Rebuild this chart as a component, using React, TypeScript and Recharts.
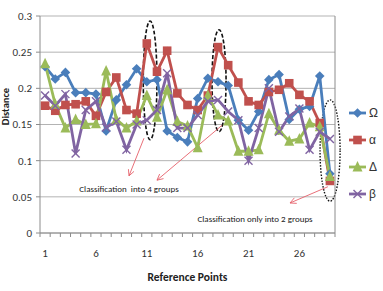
import React from 'react';
import {
  LineChart,
  Line,
  XAxis,
  YAxis,
  CartesianGrid,
  Legend,
  ReferenceLine,
  ReferenceArea,
  ReferenceDot,
  Label,
} from 'recharts';

// ---- data ----
const points = [1, 2, 3, 4, 5, 6, 7, 8, 9, 10, 11, 12, 13, 14, 15, 16, 17, 18, 19, 20, 21, 22, 23, 24, 25, 26, 27, 28, 29];
const omega = [0.23, 0.213, 0.222, 0.194, 0.194, 0.192, 0.141, 0.184, 0.205, 0.227, 0.209, 0.212, 0.141, 0.132, 0.126, 0.186, 0.214, 0.209, 0.204, 0.156, 0.142, 0.168, 0.212, 0.219, 0.157, 0.171, 0.175, 0.217, 0.082];
const alpha = [0.176, 0.169, 0.177, 0.178, 0.182, 0.162, 0.195, 0.215, 0.17, 0.165, 0.262, 0.223, 0.252, 0.193, 0.177, 0.17, 0.19, 0.257, 0.232, 0.208, 0.182, 0.177, 0.195, 0.198, 0.207, 0.191, 0.182, 0.152, 0.072];
const delta = [0.234, 0.178, 0.145, 0.157, 0.15, 0.151, 0.224, 0.157, 0.145, 0.155, 0.19, 0.16, 0.198, 0.154, 0.148, 0.118, 0.19, 0.163, 0.155, 0.113, 0.113, 0.115, 0.165, 0.142, 0.127, 0.13, 0.152, 0.147, 0.078];
const beta = [0.19, 0.176, 0.192, 0.11, 0.17, 0.182, 0.146, 0.154, 0.115, 0.15, 0.156, 0.17, 0.221, 0.145, 0.145, 0.163, 0.182, 0.184, 0.168, 0.156, 0.1, 0.145, 0.2, 0.14, 0.161, 0.172, 0.115, 0.14, 0.13];

const xTickLabels = [1, 6, 11, 16, 21, 26];
const xBoundaries = [0.5, 1.5, 2.5, 3.5, 4.5, 5.5, 6.5, 7.5, 8.5, 9.5, 10.5, 11.5, 12.5, 13.5, 14.5, 15.5, 16.5, 17.5, 18.5, 19.5, 20.5, 21.5, 22.5, 23.5, 24.5, 25.5, 26.5, 27.5, 28.5, 29.5];
const yTicks = [0, 0.05, 0.1, 0.15, 0.2, 0.25, 0.3];
const yTickLabels = ['0', '0.05', '0.1', '0.15', '0.2', '0.25', '0.3'];

const seriesKeys = ['omega', 'alpha', 'delta', 'beta'];
const seriesNames = ['Ω', 'α', 'Δ', 'β'];

// annotations (data units)
const groupEllipses = [
  { x1: 10.65, x2: 12.0, y1: 0.129, y2: 0.293 },
  { x1: 17.41, x2: 18.79, y1: 0.14, y2: 0.281 },
];
const twoGroupEllipse = { x1: 28.03, x2: 30.0, y1: 0.044, y2: 0.184 };
const arrows = [
  { from: { x: 10.72, y: 0.131 }, to: { x: 9.25, y: 0.079 } },
  { from: { x: 18.4, y: 0.149 }, to: { x: 12.0, y: 0.073 } },
  { from: { x: 28.8, y: 0.064 }, to: { x: 25.08, y: 0.0415 } },
];
const notes = [
  { x: 9.25, y: 0.061, text: 'Classification  into 4 groups' },
  { x: 21.64, y: 0.0207, text: 'Classification only into 2 groups' },
];

const data = points.map((p, i) => ({
  x: p,
  omega: omega[i],
  alpha: alpha[i],
  delta: delta[i],
  beta: beta[i],
}));

// ---- styles ----
const COLORS: Record<string, string> = { omega: '#4A7EBB', alpha: '#C0504D', delta: '#9BBB59', beta: '#8064A2' };
const FONT = "Carlito, 'Liberation Sans Narrow', 'DejaVu Sans Condensed', 'Liberation Sans', sans-serif";
const GRID = '#B3B3B3';
const AXIS = '#8C8C8C';
const ARROW = '#E5606A';

const Marker = ({ kind, cx, cy, color }: any) => {
  if (cx == null || cy == null) return null;
  if (kind === 'diamond') {
    const s = 4.8;
    return <polygon points={`${cx},${cy - s} ${cx + s},${cy} ${cx},${cy + s} ${cx - s},${cy}`} fill={color} />;
  }
  if (kind === 'square') {
    const s = 4.3;
    return <rect x={cx - s} y={cy - s} width={2 * s} height={2 * s} fill={color} />;
  }
  if (kind === 'triangle') {
    const s = 5;
    return <polygon points={`${cx},${cy - s - 1} ${cx + s},${cy + s - 0.5} ${cx - s},${cy + s - 0.5}`} fill={color} />;
  }
  const s = 4;
  return (
    <g stroke={color} strokeWidth={1.4}>
      <line x1={cx - s} y1={cy - s} x2={cx + s} y2={cy + s} />
      <line x1={cx - s} y1={cy + s} x2={cx + s} y2={cy - s} />
    </g>
  );
};

const kinds: Record<string, string> = { omega: 'diamond', alpha: 'square', delta: 'triangle', beta: 'x' };

const makeDot = (kind: string, color: string) => (props: any) => (
  <Marker key={`${kind}-${props.index}`} kind={kind} cx={props.cx} cy={props.cy} color={color} />
);

const XTick = (props: any) => {
  const { x, y, payload } = props;
  const v = payload.value;
  if (Number.isInteger(v)) {
    return (
      <text x={x} y={y + 16} dy="0.71em" textAnchor="middle" fontSize={11} fontFamily={FONT} fill="#333">
        {v}
      </text>
    );
  }
  return <line x1={x} y1={y} x2={x} y2={y + 4} stroke={AXIS} strokeWidth={1} />;
};

const EllipseShape = (dash: string, width: number) => (p: any) => {
  const { x, y, width: w, height: h } = p;
  return (
    <ellipse
      cx={x + w / 2}
      cy={y + h / 2}
      rx={Math.abs(w) / 2}
      ry={Math.abs(h) / 2}
      fill="none"
      stroke="#111"
      strokeWidth={width}
      strokeDasharray={dash}
    />
  );
};

const ArrowShape = (p: any) => {
  const { x1, y1, x2, y2 } = p;
  const ang = Math.atan2(y2 - y1, x2 - x1);
  const L = 6;
  const W = 3;
  const bx = x2 - L * Math.cos(ang);
  const by = y2 - L * Math.sin(ang);
  const px = -Math.sin(ang) * W;
  const py = Math.cos(ang) * W;
  return (
    <g stroke={ARROW} strokeWidth={0.9} fill="none">
      <line x1={x1} y1={y1} x2={x2} y2={y2} />
      <polyline points={`${bx + px},${by + py} ${x2},${y2} ${bx - px},${by - py}`} />
    </g>
  );
};

const NoteShape = (text: string) => (p: any) => (
  <text
    x={p.cx}
    y={p.cy}
    textAnchor="middle"
    dominantBaseline="central"
    fontSize={9}
    fontFamily={FONT}
    fill="#222"
    style={{ whiteSpace: 'pre' }}
  >
    {text}
  </text>
);

const LegendContent = () => (
  <svg width={38} height={110} style={{ display: 'block' }}>
    {seriesKeys.map((key, i) => {
      const cy = 13 + i * 27;
      const color = COLORS[key];
      return (
        <g key={key}>
          <line x1={4} y1={cy} x2={21} y2={cy} stroke={color} strokeWidth={2.8} />
          <Marker kind={kinds[key]} cx={12.5} cy={cy} color={color} />
          <text x={24} y={cy} dominantBaseline="central" fontSize={12} fontFamily="'Liberation Sans', 'DejaVu Sans', sans-serif" fill="#333">
            {seriesNames[i]}
          </text>
        </g>
      );
    })}
  </svg>
);

export default function App() {
  return (
    <div style={{ position: 'absolute', left: 0, top: 0 }}>
      <LineChart width={383} height={291} data={data} margin={{ top: 16, right: 48, bottom: 0, left: 0 }}>
        <CartesianGrid vertical={false} stroke={GRID} strokeWidth={1} />
        <XAxis
          dataKey="x"
          type="number"
          domain={[0.5, 29.5]}
          ticks={[...xBoundaries, ...xTickLabels]}
          interval={0}
          tick={<XTick />}
          tickLine={false}
          tickSize={0}
          tickMargin={0}
          height={58}
          stroke={AXIS}
          allowDataOverflow
        >
          <Label
            content={(p: any) => {
              const vb = p.viewBox;
              return (
                <text
                  x={vb.x + vb.width / 2}
                  y={281}
                  textAnchor="middle"
                  fontSize={11.5}
                  fontWeight="bold"
                  fontFamily={FONT}
                  fill="#222"
                >
                  Reference Points
                </text>
              );
            }}
          />
        </XAxis>
        <YAxis
          type="number"
          domain={[0, 0.3]}
          ticks={yTicks}
          interval={0}
          tickFormatter={(v: number) => yTickLabels[yTicks.indexOf(v)] ?? String(v)}
          width={40}
          tickSize={4}
          tickMargin={4}
          stroke={AXIS}
          tick={{ fontSize: 11, fontFamily: FONT, fill: '#333' }}
        >
          <Label
            content={(p: any) => {
              const vb = p.viewBox;
              const cx = 5;
              const cy = vb.y + vb.height / 2 - 18;
              return (
                <text
                  x={cx}
                  y={cy}
                  transform={`rotate(-90, ${cx}, ${cy})`}
                  textAnchor="middle"
                  dominantBaseline="central"
                  fontSize={10.5}
                  fontWeight="bold"
                  fontFamily={FONT}
                  fill="#222"
                >
                  Distance
                </text>
              );
            }}
          />
        </YAxis>
        <ReferenceLine x={29.5} stroke={AXIS} strokeWidth={1} />

        <Line dataKey="omega" name={seriesNames[0]} stroke={COLORS.omega} strokeWidth={2.8} dot={makeDot('diamond', COLORS.omega)} activeDot={false} isAnimationActive={false} />
        <Line dataKey="alpha" name={seriesNames[1]} stroke={COLORS.alpha} strokeWidth={2.8} dot={makeDot('square', COLORS.alpha)} activeDot={false} isAnimationActive={false} />
        <Line dataKey="delta" name={seriesNames[2]} stroke={COLORS.delta} strokeWidth={2.8} dot={makeDot('triangle', COLORS.delta)} activeDot={false} isAnimationActive={false} />
        <Line dataKey="beta" name={seriesNames[3]} stroke={COLORS.beta} strokeWidth={2.8} dot={makeDot('x', COLORS.beta)} activeDot={false} isAnimationActive={false} />

        {groupEllipses.map((e, i) => (
          <ReferenceArea key={`e${i}`} x1={e.x1} x2={e.x2} y1={e.y1} y2={e.y2} ifOverflow="visible" shape={EllipseShape('4 2', 1.6)} />
        ))}
        <ReferenceArea
          x1={twoGroupEllipse.x1}
          x2={twoGroupEllipse.x2}
          y1={twoGroupEllipse.y1}
          y2={twoGroupEllipse.y2}
          ifOverflow="visible"
          shape={EllipseShape('1.5 1.5', 1.4)}
        />
        {arrows.map((a, i) => (
          <ReferenceLine key={`a${i}`} segment={[a.from, a.to]} ifOverflow="visible" shape={ArrowShape} />
        ))}
        {notes.map((n, i) => (
          <ReferenceDot key={`n${i}`} x={n.x} y={n.y} r={0} ifOverflow="visible" shape={NoteShape(n.text)} />
        ))}

        <Legend
          layout="vertical"
          align="center"
          verticalAlign="middle"
          content={<LegendContent />}
          wrapperStyle={{ left: 345, top: 100, width: 38, height: 110 }}
        />
      </LineChart>
    </div>
  );
}
